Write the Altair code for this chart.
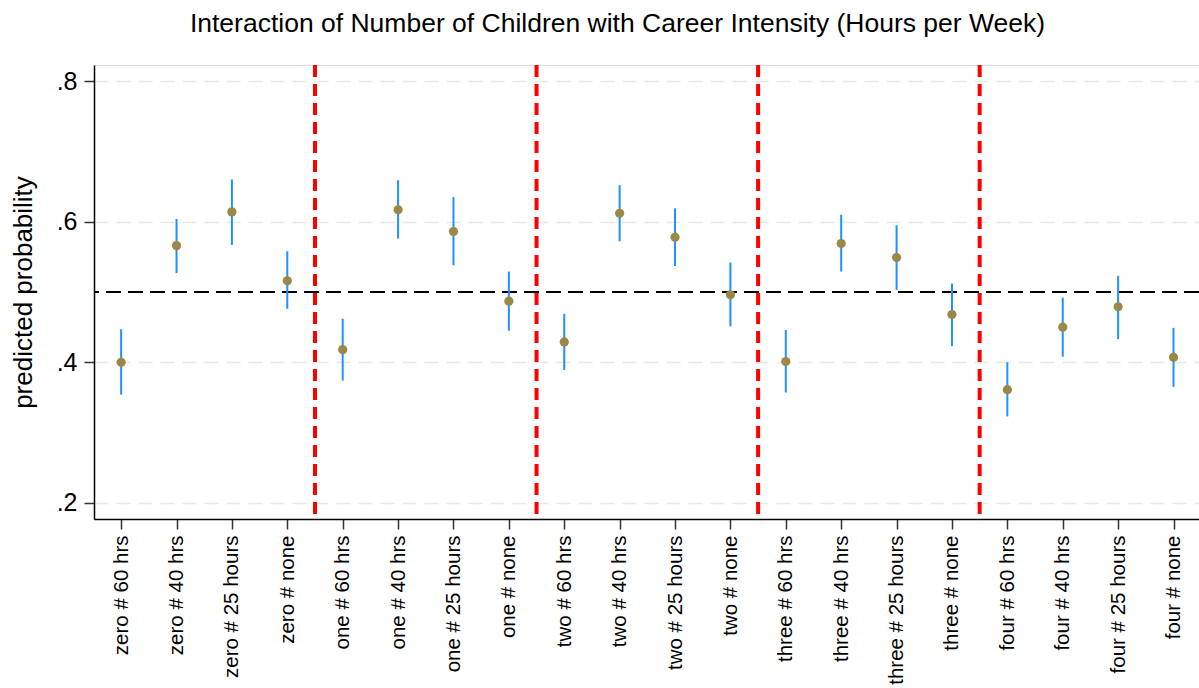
import altair as alt
import pandas as pd

# Category labels along the x axis (children # hours)
labels = [
    "zero # 60 hrs", "zero # 40 hrs", "zero # 25 hours", "zero # none",
    "one # 60 hrs", "one # 40 hrs", "one # 25 hours", "one # none",
    "two # 60 hrs", "two # 40 hrs", "two # 25 hours", "two # none",
    "three # 60 hrs", "three # 40 hrs", "three # 25 hours", "three # none",
    "four # 60 hrs", "four # 40 hrs", "four # 25 hours", "four # none",
]
positions = list(range(1, len(labels) + 1))

# Predicted probabilities and their confidence bounds
margin = [0.400, 0.566, 0.614, 0.516, 0.418, 0.617, 0.586, 0.487, 0.429, 0.612,
          0.578, 0.496, 0.401, 0.569, 0.549, 0.468, 0.361, 0.450, 0.479, 0.407]
ci_low = [0.354, 0.527, 0.567, 0.476, 0.374, 0.576, 0.538, 0.445, 0.389, 0.572,
          0.537, 0.451, 0.357, 0.529, 0.503, 0.423, 0.323, 0.408, 0.433, 0.365]
ci_high = [0.447, 0.604, 0.660, 0.558, 0.462, 0.659, 0.635, 0.529, 0.469, 0.652,
           0.619, 0.542, 0.446, 0.610, 0.595, 0.512, 0.400, 0.492, 0.523, 0.449]

# Separators between numbers of children, and the 0.5 reference line
group_breaks = [4.5, 8.5, 12.5, 16.5]
reference = [0.5]

df = pd.DataFrame({"pos": positions, "label": labels, "margin": margin,
                   "lo": ci_low, "hi": ci_high})
breaks_df = pd.DataFrame({"x": group_breaks})
ref_df = pd.DataFrame({"y": reference})

FONT = "Liberation Sans"
label_array = "[" + ",".join("'" + s + "'" for s in labels) + "]"

x_scale = alt.Scale(domain=[0.51, 20.46], nice=False, zero=False)
y_scale = alt.Scale(domain=[0.177, 0.823], nice=False, zero=False)

x_axis = alt.Axis(
    values=positions, labelExpr=label_array + "[datum.value - 1]",
    labelAngle=-90, labelFontSize=20.5, labelFont=FONT, labelColor="black",
    labelPadding=6, tickSize=10, tickColor="#333333", tickWidth=1.5,
    domainColor="black", domainWidth=1.5, grid=False, title=None,
    labelOverlap=False, labelBound=False, labelFlush=False,
)
y_axis = alt.Axis(
    values=[0.2, 0.4, 0.6, 0.8], format=".1f",
    labelExpr="replace(format(datum.value, '.1f'), '0.', '.')",
    labelFontSize=25, labelFont=FONT, labelColor="black", labelPadding=7,
    tickSize=10, tickColor="#333333", tickWidth=1.5,
    domainColor="black", domainWidth=1.5,
    grid=True, gridColor="#e8e8e8", gridDash=[14, 8], gridWidth=1.5,
    title="predicted probability", titleFont=FONT, titleFontSize=26,
    titleFontWeight="normal", titleColor="black", titlePadding=20,
)

ci = alt.Chart(df).mark_rule(color="#1e90ff", strokeWidth=2).encode(
    x=alt.X("pos:Q", scale=x_scale, axis=x_axis),
    y=alt.Y("lo:Q", scale=y_scale, axis=y_axis),
    y2="hi:Q",
)

points = alt.Chart(df).mark_circle(size=85, color="#9c8846", opacity=1).encode(
    x=alt.X("pos:Q", scale=x_scale),
    y=alt.Y("margin:Q", scale=y_scale),
)

ref_line = alt.Chart(ref_df).mark_rule(
    color="black", strokeWidth=2, strokeDash=[15, 7]
).encode(y=alt.Y("y:Q", scale=y_scale))

separators = alt.Chart(breaks_df).mark_rule(
    color="#ff0000", strokeWidth=4, strokeDash=[12, 7]
).encode(x=alt.X("x:Q", scale=x_scale))

chart = alt.layer(ref_line, ci, separators, points).properties(
    width=1105,
    height=454,
    padding={"left": 94, "top": 65, "right": 0, "bottom": 169},
    autosize=alt.AutoSizeParams(type="none"),
    title=alt.TitleParams(
        "Interaction of Number of Children with Career Intensity (Hours per Week)",
        font=FONT, fontSize=26.5, fontWeight="normal", color="black",
        anchor="middle", dx=-29, offset=26,
    ),
).configure_view(stroke=None).configure(background="white")

chart.save("out.html", embed_options={"renderer": "svg", "actions": False})
